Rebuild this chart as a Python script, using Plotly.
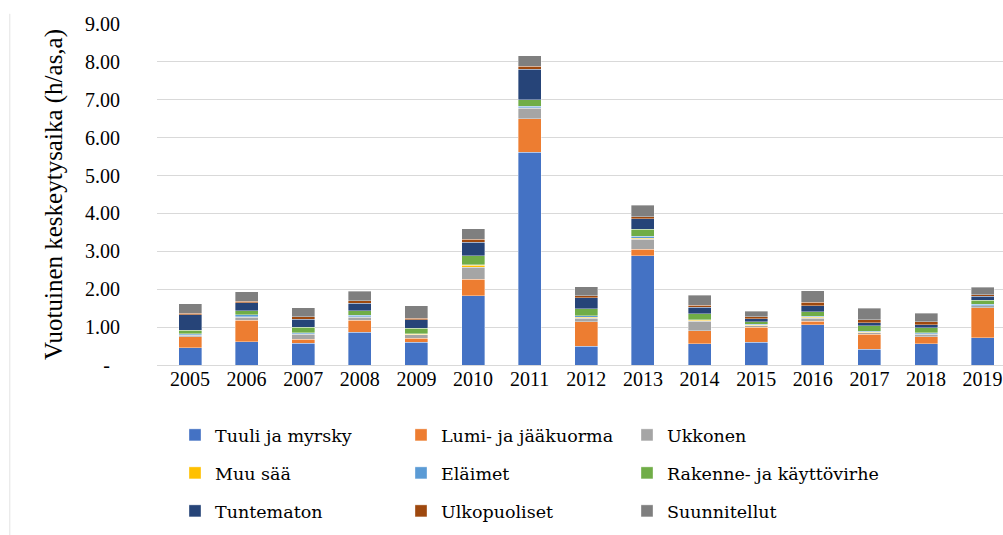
import plotly.graph_objects as go

FONT = "Times New Roman"
LEG_FONT = "DejaVu Serif"

years = ["2005", "2006", "2007", "2008", "2009", "2010", "2011", "2012",
         "2013", "2014", "2015", "2016", "2017", "2018", "2019"]

tuuli        = [0.46, 0.62, 0.57, 0.86, 0.60, 1.83, 5.61, 0.50, 2.89, 0.56, 0.60, 1.06, 0.42, 0.56, 0.72]
lumi         = [0.28, 0.56, 0.11, 0.32, 0.10, 0.43, 0.89, 0.64, 0.16, 0.35, 0.39, 0.10, 0.39, 0.19, 0.79]
ukkonen      = [0.05, 0.08, 0.13, 0.08, 0.10, 0.32, 0.27, 0.10, 0.27, 0.24, 0.04, 0.08, 0.04, 0.06, 0.05]
muu_saa      = [0.01, 0.02, 0.01, 0.01, 0.01, 0.05, 0.02, 0.02, 0.03, 0.03, 0.02, 0.02, 0.01, 0.02, 0.01]
elaimet      = [0.03, 0.05, 0.03, 0.04, 0.02, 0.02, 0.04, 0.04, 0.05, 0.02, 0.02, 0.03, 0.03, 0.02, 0.03]
rakenne      = [0.09, 0.10, 0.15, 0.12, 0.14, 0.23, 0.17, 0.18, 0.18, 0.15, 0.07, 0.11, 0.14, 0.13, 0.11]
tuntematon   = [0.41, 0.21, 0.21, 0.20, 0.22, 0.36, 0.81, 0.30, 0.28, 0.17, 0.08, 0.17, 0.09, 0.08, 0.11]
ulkopuoliset = [0.04, 0.04, 0.06, 0.07, 0.05, 0.08, 0.08, 0.05, 0.05, 0.06, 0.05, 0.09, 0.07, 0.08, 0.04]
suunnitellut = [0.25, 0.26, 0.24, 0.25, 0.32, 0.28, 0.27, 0.24, 0.30, 0.26, 0.15, 0.30, 0.31, 0.23, 0.19]

y_ticks = [0, 1, 2, 3, 4, 5, 6, 7, 8, 9]
y_ticktext = ["-\u2007"] + [f"{v:.2f}" for v in y_ticks[1:]]

series = [
    ("Tuuli ja myrsky", tuuli, "#4472C4"),
    ("Lumi- ja jääkuorma", lumi, "#ED7D31"),
    ("Ukkonen", ukkonen, "#A5A5A5"),
    ("Muu sää", muu_saa, "#FFC000"),
    ("Eläimet", elaimet, "#5B9BD5"),
    ("Rakenne- ja käyttövirhe", rakenne, "#70AD47"),
    ("Tuntematon", tuntematon, "#264478"),
    ("Ulkopuoliset", ulkopuoliset, "#9E480E"),
    ("Suunnitellut", suunnitellut, "#7F7F7F"),
]

# legend grid: 3 columns x 3 rows below the plot (pixel positions)
leg_cols = [175, 401, 627]
leg_rows = [435, 473, 511]

fig = go.Figure()
legends = {}
for i, (name, vals, color) in enumerate(series):
    key = "legend" if i == 0 else f"legend{i + 1}"
    fig.add_trace(go.Bar(
        x=years, y=vals, name=name, legend=key, showlegend=True,
        marker=dict(color=color, line=dict(color="rgba(255,255,255,0.6)", width=0.6)),
    ))
    legends[key] = dict(
        orientation="h", xref="container", yref="container",
        x=leg_cols[i % 3] / 1003, y=1 - leg_rows[i // 3] / 535,
        xanchor="left", yanchor="middle",
        font=dict(family=LEG_FONT, size=17.5, color="#000000"),
        bgcolor="rgba(0,0,0,0)", itemclick=False,
    )

fig.update_layout(
    barmode="stack",
    bargap=0.594,
    showlegend=True,
    width=1003, height=535,
    paper_bgcolor="#FFFFFF", plot_bgcolor="#FFFFFF",
    margin=dict(l=157, r=0, t=24, b=170),
    font=dict(family=FONT, size=20, color="#000000"),
    xaxis=dict(
        range=[-0.583, 14.36], showgrid=False, showline=False, ticks="",
        automargin=False,
        tickfont=dict(family=FONT, size=20, color="#000000"),
    ),
    yaxis=dict(
        range=[0, 9], tickvals=y_ticks, ticktext=y_ticktext,
        showgrid=True, gridcolor="#D9D9D9", gridwidth=1.3,
        zeroline=True, zerolinecolor="#D9D9D9", zerolinewidth=1.3,
        ticks="", ticklabelstandoff=36, automargin=False,
        tickfont=dict(family=FONT, size=20, color="#000000"),
        title=dict(text="Vuotuinen keskeytysaika (h/as,a)",
                   font=dict(family=FONT, size=25, color="#000000"), standoff=15),
    ),
    shapes=[dict(type="line", xref="paper", yref="paper",
                 x0=-0.174, x1=-0.174, y0=-0.6, y1=1.03,
                 line=dict(color="#E3E3E3", width=1))],
    **legends,
)

fig.write_html("out.html", config={"displayModeBar": False},
               post_script="document.body.style.margin='0';")
